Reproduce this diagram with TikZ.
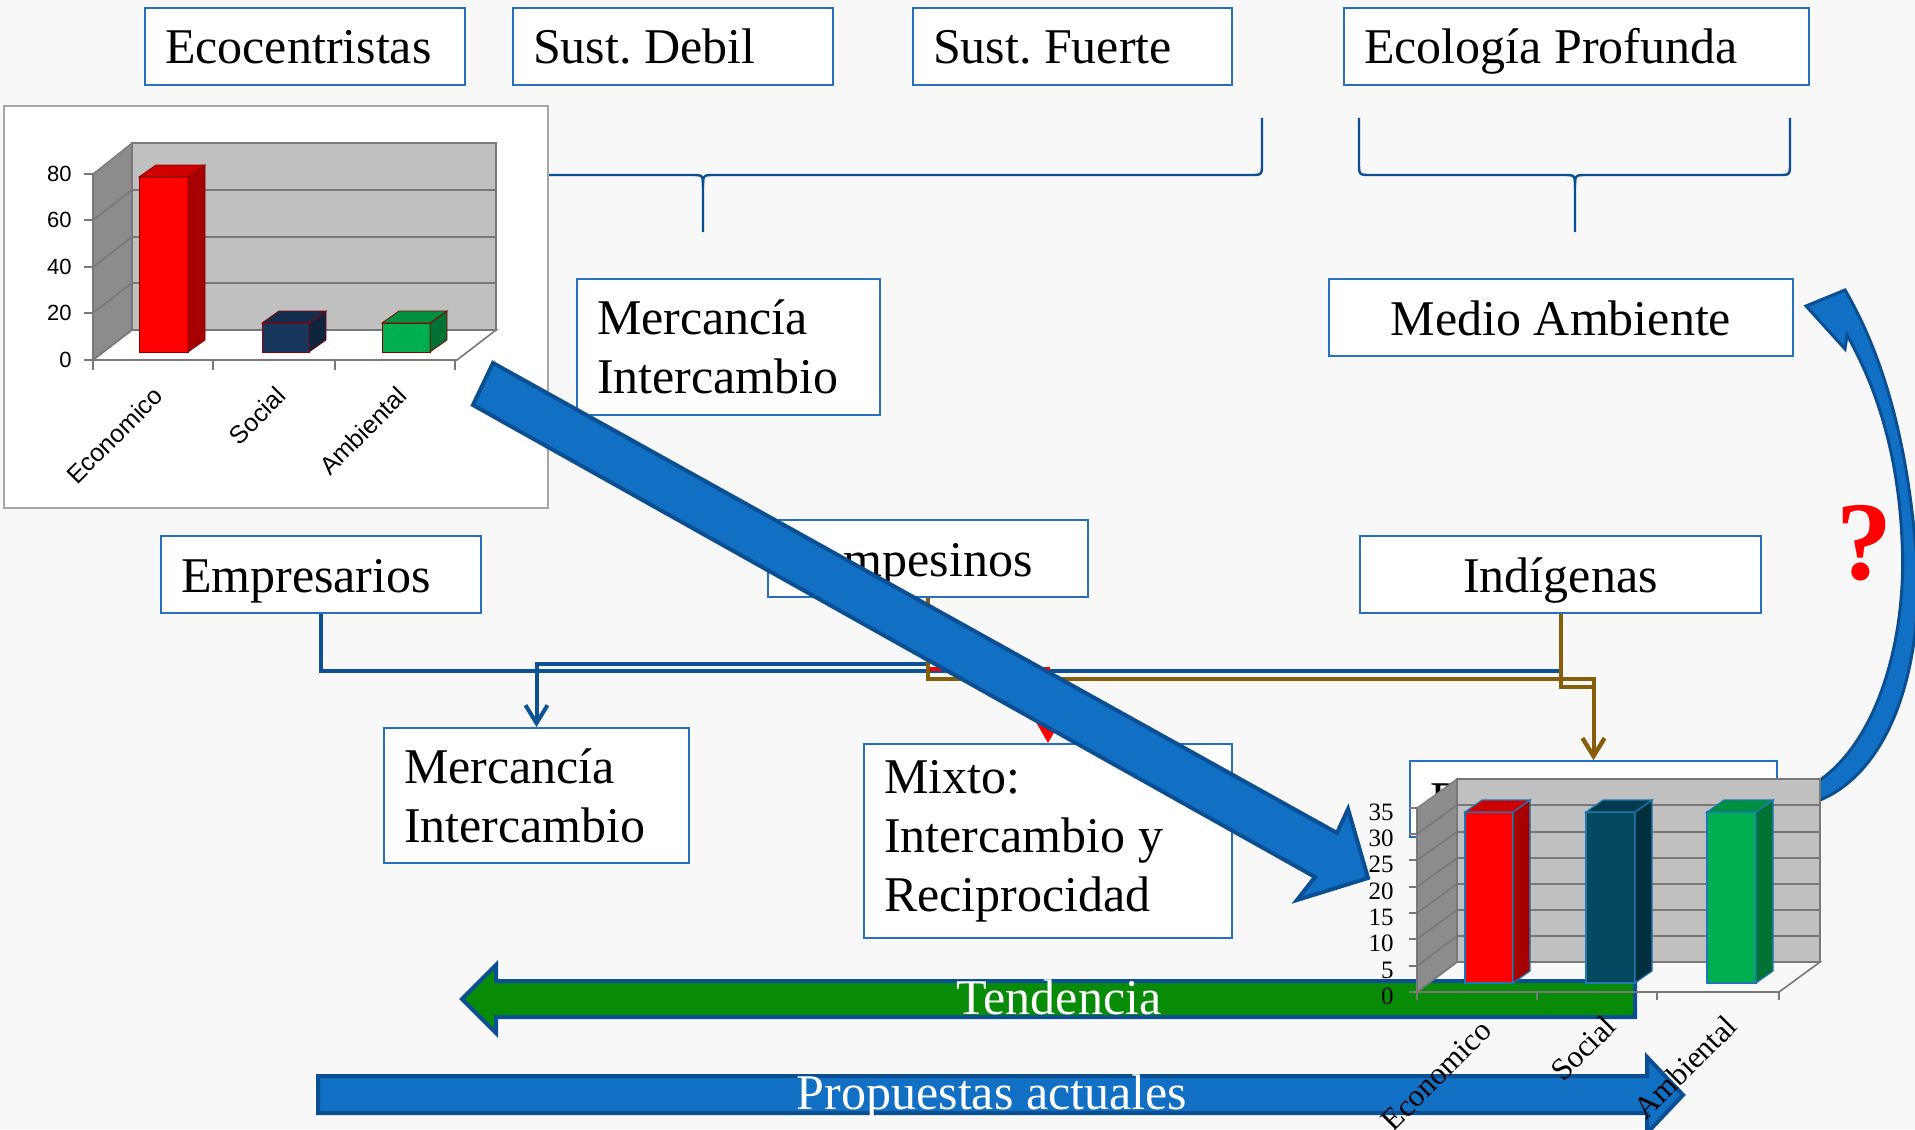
\documentclass[tikz,border=0pt]{standalone}
\usepackage{fontspec}
\setmainfont{Liberation Serif}
\setsansfont{Liberation Sans}
\frenchspacing
\usetikzlibrary{arrows.meta, calc}
\definecolor{boxBlue}{RGB}{36,113,192}
\definecolor{lineBlue}{RGB}{11,83,148}
\definecolor{lineBrown}{RGB}{135,95,10}
\definecolor{arrowFill}{RGB}{17,112,196}
\definecolor{arrowEdge}{RGB}{10,79,146}
\definecolor{trendGreen}{RGB}{8,140,8}
\definecolor{wallGray}{RGB}{192,192,192}
\definecolor{sideGray}{RGB}{140,140,140}
\definecolor{gridGray}{RGB}{120,120,120}
\definecolor{barRed}{RGB}{255,0,0}
\definecolor{barNavy}{RGB}{23,55,94}
\definecolor{barTeal}{RGB}{2,72,94}
\definecolor{barGreen}{RGB}{0,176,80}
\definecolor{barEdge}{RGB}{31,119,180}
\definecolor{bgGray}{RGB}{248,248,248}

\begin{document}
\begin{tikzpicture}[
    x=0.5pt, y=-0.5pt,
    block/.style={
        rectangle,
        draw=boxBlue,
        line width=1pt,
        fill=white,
        anchor=north west,
        inner xsep=10pt,
        inner ysep=0pt,
        minimum height=38.5pt,
        align=flush left,
        font=\fontsize{25}{29.5}\selectfont
    },
    oneline/.style={text height=17.5pt, text depth=0pt},
    conn/.style={line width=2pt, draw=lineBlue, -{Straight Barb[length=9pt,width=11pt]}},
    brace/.style={draw=arrowEdge, line width=1.2pt},
    bigarrow/.style={fill=arrowFill, draw=arrowEdge, line width=2pt, line join=miter},
    wall/.style={fill=wallGray, draw=gridGray, line width=0.6pt},
    grid/.style={draw=gridGray, line width=0.8pt},
    axisnum/.style={anchor=east, inner sep=1pt},
    barname/.style={rotate=45, anchor=east, inner sep=1pt}
]
    \useasboundingbox (0,0) rectangle (1915,1129);
    \fill[bgGray] (0,0) rectangle (1915,1129);

    \draw[brace] (144,118) -- (144,163) .. controls (144,175) .. (156,175) -- (691,175) .. controls (703,175) .. (703,187) -- (703,232);
    \draw[brace] (703,187) .. controls (703,175) .. (715,175) -- (1250,175) .. controls (1262,175) .. (1262,163) -- (1262,118);
    \draw[brace] (1359,118) -- (1359,163) .. controls (1359,175) .. (1371,175) -- (1563,175) .. controls (1575,175) .. (1575,187) -- (1575,232);
    \draw[brace] (1575,187) .. controls (1575,175) .. (1587,175) -- (1778,175) .. controls (1790,175) .. (1790,163) -- (1790,118);

    \node[block, oneline, text width=140pt] (eco) at (144,7) {Ecocentristas};
    \node[block, oneline, text width=140pt] (debil) at (512,7) {Sust. Debil};
    \node[block, oneline, text width=139.5pt] (fuerte) at (912,7) {Sust. Fuerte};
    \node[block, oneline, text width=212.5pt] (profunda) at (1343,7) {Ecología Profunda};
    \node[block, text width=131.5pt, minimum height=68pt] (mercA) at (576,278) {Mercancía\\Intercambio};
    \node[block, oneline, text width=212pt, align=flush center] (medio) at (1328,278) {Medio Ambiente};
    \node[block, oneline, text width=140pt] (empres) at (160,535) {Empresarios};
    \node[block, oneline, text width=140pt] (campes) at (767,519) {Campesinos};
    \node[block, oneline, text width=180.5pt, align=flush center] (indig) at (1359,535) {Indígenas};
    \node[block, text width=132.5pt, minimum height=67.5pt] (mercB) at (383,727) {Mercancía\\Intercambio};
    \node[block, text width=164pt, minimum height=97pt] (mixto) at (863,743) {Mixto:\\Intercambio y\\Reciprocidad};
    \node[block, oneline, text width=163.5pt, minimum height=38pt] (recip) at (1409,760) {Reciprocidad};

    \draw[conn, -] (empres.south) -- ++(0,57) -| (indig.south);
    \draw[conn] (campes.south) -- ++(0,66) -| (mercB.north);
    \draw[conn, draw=red, -{Triangle[length=10pt,width=11pt]}] (campes.south) -- ++(0,71) -| (mixto.north);
    \draw[conn, draw=lineBrown] (campes.south) -- ++(0,81) -| (recip.north);
    \draw[conn, draw=lineBrown] (indig.south) -- ++(0,73) -| (recip.north);

    \draw[fill=white, draw=gray!70, line width=1pt] (4,106) rectangle (548,508);
    \filldraw[fill=sideGray, draw=gridGray, line width=0.6pt] (93,174) -- (132,143) -- (132,330) -- (93,360) -- cycle;
    \filldraw[wall] (132,143) rectangle (496,330);
    \foreach \y/\yb in {313/283, 267/237, 220/190}
        \draw[grid] (93,\y) -- (132,\yb) -- (496,\yb);
    \draw[grid] (93,174) -- (93,360) -- (132,330) -- (496,330) -- (457,360) -- (93,360);
    \foreach \v/\y in {0/360, 20/313, 40/267, 60/220, 80/174} {
        \draw[grid] (84,\y) -- (93,\y);
        \node[axisnum, font=\sffamily\fontsize{11}{11}\selectfont] (ya\v) at (74,\y) {\v};
    }
    \foreach \x in {93,213,335,455}
        \draw[grid] (\x,360) -- (\x,370);
    \foreach \xa/\xb/\yt/\col in {139/188/177/barRed, 262/309/323/barNavy, 382/430/323/barGreen} {
        \filldraw[fill=\col, draw=red!55!black, line width=0.4pt] (\xa,\yt) rectangle (\xb,352);
        \filldraw[fill=\col!65!black, draw=red!55!black, line width=0.4pt] (\xb,\yt) -- ++(17,-12) -- (\xb+17,340) -- (\xb,352) -- cycle;
        \filldraw[fill=\col!82!black, draw=red!55!black, line width=0.4pt] (\xa,\yt) -- ++(17,-12) -- (\xb+17,\yt-12) -- (\xb,\yt) -- cycle;
    }
    \foreach \x/\t in {160/Economico, 283/Social, 404/Ambiental}
        \node[barname, font=\sffamily\fontsize{12.5}{12.5}\selectfont] (xa\t) at (\x,390) {\t};

    \filldraw[bigarrow] (493,363) -- (1337,833) -- (1348,809) -- (1368,878) -- (1297,900) -- (1315,877) -- (473,405) -- cycle;

    \filldraw[bigarrow, fill=trendGreen, draw=arrowEdge] (1635,981) -- (496,981) -- (496,965) -- (462,999) -- (496,1033) -- (496,1017) -- (1635,1017) -- cycle;
    \node[anchor=base, text=white, font=\fontsize{25}{25}\selectfont] (tend) at (1059,1014) {Tendencia};

    \filldraw[bigarrow] (318,1076) -- (1647,1076) -- (1647,1057) -- (1683,1095) -- (1647,1133) -- (1647,1113) -- (318,1113) -- cycle;
    \node[anchor=base, text=white, font=\fontsize{25}{25}\selectfont] (prop) at (992,1109) {Propuestas actuales};

    \filldraw[bigarrow, line width=1.5pt] (1790,808) .. controls (1895,795) and (1928,650) .. (1915,540) .. controls (1905,430) and (1880,350) .. (1845,290) -- (1806,306) -- (1845,349) -- (1847,335) .. controls (1875,385) and (1898,450) .. (1902,540) .. controls (1908,650) and (1870,770) .. (1790,795) -- cycle;

    \filldraw[fill=sideGray, draw=gridGray, line width=0.6pt] (1417,808) -- (1457,779) -- (1457,962) -- (1417,992) -- cycle;
    \filldraw[wall] (1457,779) rectangle (1820,962);
    \foreach \y/\yb in {966/936, 939/910, 913/884, 887/858, 860/832, 834/805}
        \draw[grid] (1417,\y) -- (1457,\yb) -- (1820,\yb);
    \draw[grid] (1417,808) -- (1417,992) -- (1457,962) -- (1820,962) -- (1779,992) -- (1417,992);
    \foreach \v/\y in {0/992, 5/966, 10/939, 15/913, 20/887, 25/860, 30/834, 35/808} {
        \draw[grid] (1409,\y) -- (1417,\y);
        \node[axisnum, font=\fontsize{12.5}{12.5}\selectfont] (yb\v) at (1396,\y+4) {\v};
    }
    \foreach \x in {1417,1537,1657,1779}
        \draw[grid] (\x,992) -- (\x,1000);
    \foreach \xa/\xb/\col in {1465/1513/barRed, 1586/1635/barTeal, 1707/1756/barGreen} {
        \filldraw[fill=\col, draw=barEdge, line width=0.6pt] (\xa,812) rectangle (\xb,983);
        \filldraw[fill=\col!65!black, draw=barEdge, line width=0.6pt] (\xb,812) -- ++(17,-12) -- (\xb+17,971) -- (\xb,983) -- cycle;
        \filldraw[fill=\col!82!black, draw=barEdge, line width=0.6pt] (\xa,812) -- ++(17,-12) -- (\xb+17,800) -- (\xb,812) -- cycle;
    }
    \foreach \x/\y/\t in {1488/1024/Economico, 1612/1019/Social, 1733/1019/Ambiental}
        \node[barname, font=\fontsize{15.5}{15.5}\selectfont] (xb\t) at (\x,\y) {\t};

    \node[text=red, font=\fontsize{56}{56}\selectfont\bfseries] (qmark) at (1864,543) {?};

\end{tikzpicture}
\end{document}
